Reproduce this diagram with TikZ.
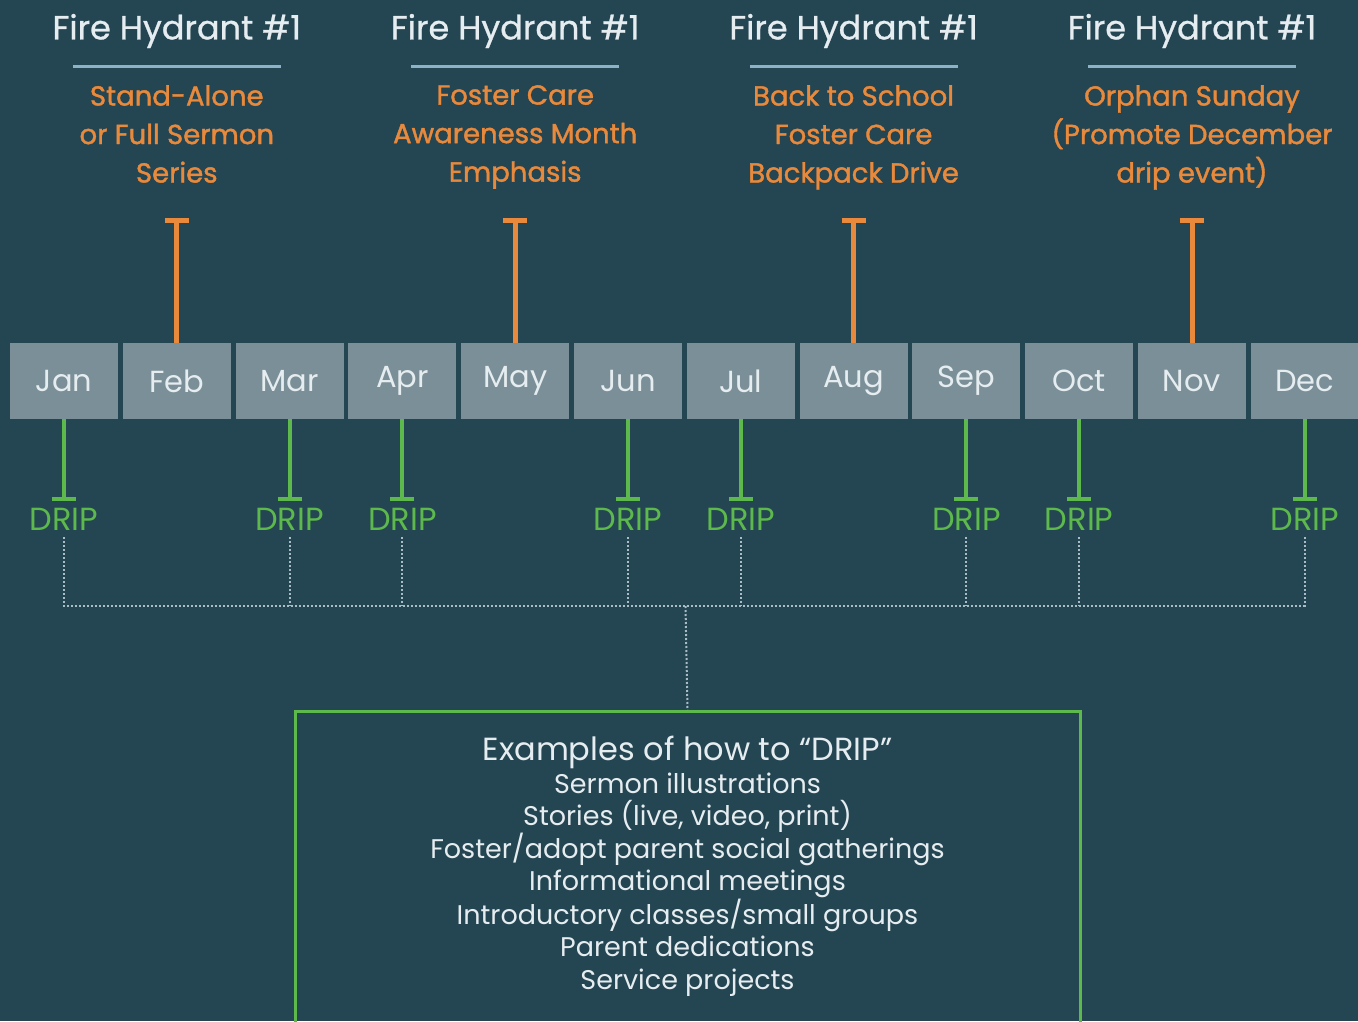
\documentclass[tikz,border=0pt]{standalone}
\usepackage{fontspec}
\setmainfont{Poppins}
\newfontfamily\medfont{Poppins}[FakeBold=1.4]
\newfontfamily\headfont{Poppins}[FakeBold=0.8]
\usepackage{tikz}
\usetikzlibrary{arrows.meta,positioning,calc}
\definecolor{bgteal}{HTML}{244552}
\definecolor{mgray}{HTML}{7A8F97}
\definecolor{morange}{HTML}{E8893C}
\definecolor{mgreen}{HTML}{5DB94C}
\definecolor{uline}{HTML}{8DB1C6}
\definecolor{dotc}{HTML}{A9BDC7}
\definecolor{ltext}{HTML}{E6EDF0}
\tikzset{
  month/.style={fill=mgray, text=ltext, minimum width=108pt, minimum height=76pt,
                inner sep=0pt, font=\fontsize{30.5}{32}\selectfont},
  head/.style={text=ltext, inner sep=0pt, font=\headfont\fontsize{33.5}{36}\selectfont},
  hydr/.style={text=morange, align=center, inner sep=0pt, anchor=north,
               font=\medfont\fontsize{27.5}{38.5}\selectfont},
  drip/.style={text=mgreen, inner sep=7pt, font=\fontsize{32}{34}\selectfont},
  hline/.style={-{Bar[width=24pt]}, line width=5pt, draw=morange},
  dline/.style={-{Bar[width=24pt]}, line width=4pt, draw=mgreen},
  dots/.style={draw=dotc, line width=2pt, dash pattern=on 2pt off 2pt},
  exbox/.style={draw=mgreen, line width=3pt, minimum width=785pt, minimum height=340pt, anchor=north},
  exlines/.style={text=ltext, align=center, inner sep=0pt, font=\fontsize{27}{32.5}\selectfont}
}

\begin{document}
\begin{tikzpicture}[x=1pt, y=-1pt]
  \useasboundingbox (0,0) rectangle (1358,1021);
  \clip (0,0) rectangle (1358,1021);
  \fill[bgteal] (0,0) rectangle (1358,1021);

  \foreach \m [count=\i] in {Jan,Feb,Mar,Apr,May,Jun,Jul,Aug,Sep,Oct,Nov,Dec}
    \node[month] (\m) at ({64+(\i-1)*112.8},381) {\m};

  \foreach \m/\txt in {Feb/{Stand-Alone\\or Full Sermon\\Series},
                       May/{Foster Care\\Awareness Month\\Emphasis},
                       Aug/{Back to School\\Foster Care\\Backpack Drive},
                       Nov/{Orphan Sunday\\(Promote December\\drip event)}} {
    \node[head] (head\m) at (\m |- 0,31) {Fire Hydrant \#1};
    \draw[uline, line width=3pt] ($(\m |- 0,66)+(-104,0)$) -- +(208,0);
    \node[hydr] (txt\m) at (\m |- 0,85) {\txt};
    \coordinate (fh\m) at (\m |- 0,218);
    \draw[hline] (\m) -- (fh\m);
  }

  \foreach \m in {Jan,Mar,Apr,Jun,Jul,Sep,Oct,Dec} {
    \node[drip] (drip\m) at (\m |- 0,519) {DRIP};
    \draw[dline] (\m) -- (drip\m);
  }

  \node[exbox] (ex) at (687.5,710) {};
  \node[exlines, below=26pt of ex.north] (extxt)
    {{\fontsize{32}{32.5}\selectfont Examples of how to “DRIP”}\\
     Sermon illustrations\\
     Stories (live, video, print)\\
     Foster/adopt parent social gatherings\\
     Informational meetings\\
     Introductory classes/small groups\\
     Parent dedications\\
     Service projects};

  \coordinate (bus) at (685.5,606);
  \draw[dots] (dripJan.south) |- (bus) -| (dripDec.south);
  \foreach \m in {Mar,Apr,Jun,Jul,Sep,Oct}
    \draw[dots] (drip\m.south) -- (drip\m.south |- bus);
  \draw[dots] (bus) -- (ex.north);
\end{tikzpicture}
\end{document}
